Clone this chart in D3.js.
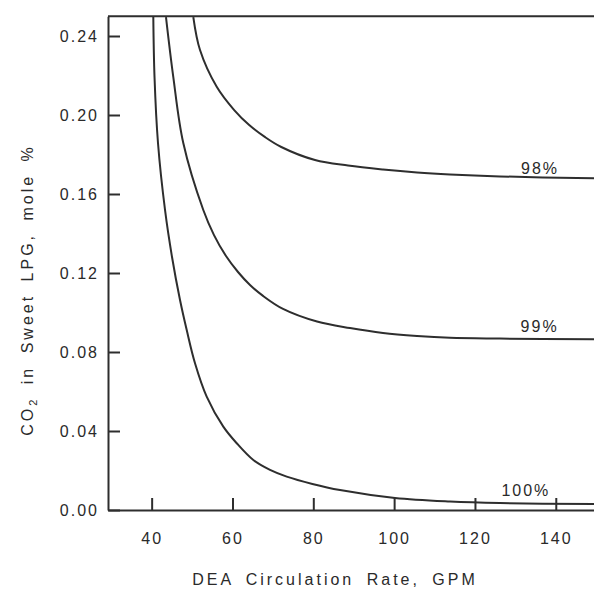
<!DOCTYPE html>
<html>
<head>
<meta charset="utf-8">
<script src="https://cdn.jsdelivr.net/npm/d3@7"></script>
<style>
  html, body { margin: 0; padding: 0; background: #fff; }
  svg { display: block; }
  text { font-family: "Liberation Sans", Arial, sans-serif; fill: #2a2a2a; }
</style>
</head>
<body>
<svg id="chart" width="594" height="589"></svg>
<script>
// ---- data ----
const xTicks = [40, 60, 80, 100, 120, 140];
const yTicks = [0.00, 0.04, 0.08, 0.12, 0.16, 0.20, 0.24];

const seriesNames = ["98%", "99%", "100%"];

const x98 = [50.31, 51.97, 56.10, 60.43, 64.14, 68.00, 72.08, 80.42, 88.59, 97.25, 105.67, 113.83, 126.2, 149.96];
const y98 = [0.2496, 0.2329, 0.2143, 0.2025, 0.1949, 0.1889, 0.1838, 0.1772, 0.1744, 0.1724, 0.1709, 0.1699, 0.1689, 0.1679];

const x99 = [43.55, 45.36, 47.83, 52.78, 55.43, 58.40, 61.37, 64.34, 67.56, 72.51, 80.92, 89.09, 97.25, 105.67, 113.83, 126.2, 149.96];
const y99 = [0.2496, 0.2192, 0.1858, 0.1519, 0.1392, 0.1286, 0.1205, 0.1139, 0.1084, 0.1018, 0.0954, 0.0921, 0.0896, 0.0881, 0.0872, 0.0868, 0.0864];

const x100 = [40.41, 40.71, 41.57, 43.31, 45.04, 47.02, 48.68, 50.73, 53.62, 57.73, 61.05, 65.16, 69.29, 73.42, 79.78, 86.61, 100.22, 113.83, 126.2, 149.96];
const y100 = [0.2496, 0.2192, 0.1858, 0.1519, 0.1281, 0.1063, 0.0911, 0.0743, 0.0574, 0.0422, 0.0338, 0.0253, 0.0203, 0.0169, 0.0132, 0.0101, 0.0061, 0.0043, 0.0035, 0.0030];

// label anchor positions (data coords) for curve labels
const labelX = [136.1, 136.0, 132.6];
const labelY = [0.1700, 0.0901, 0.0071];

const xTitle = "DEA Circulation Rate, GPM";

// ---- layout ----
const svg = d3.select("#chart");
const x = d3.scaleLinear().domain([29.2, 150.2]).range([108, 597]);
const y = d3.scaleLinear().domain([0, 0.25]).range([510, 16.25]);

const ink = "#2e2e2e";

// curves
const line = d3.line()
  .x(d => x(d[0]))
  .y(d => y(d[1]))
  .curve(d3.curveCatmullRom.alpha(0.5));

const allSeries = [
  d3.zip(x98, y98),
  d3.zip(x99, y99),
  d3.zip(x100, y100)
];

svg.append("g").selectAll("path")
  .data(allSeries)
  .join("path")
  .attr("d", line)
  .attr("fill", "none")
  .attr("stroke", ink)
  .attr("stroke-width", 2);

// axes
const xAxis = d3.axisBottom(x)
  .tickValues(xTicks)
  .tickFormat(d3.format("d"))
  .tickSizeInner(-12)
  .tickSizeOuter(0)
  .tickPadding(23);

const yAxis = d3.axisLeft(y)
  .tickValues(yTicks)
  .tickFormat(d3.format(".2f"))
  .tickSizeInner(-12)
  .tickSizeOuter(0)
  .tickPadding(9);

const gx = svg.append("g").attr("transform", `translate(0,${y(0)})`).call(xAxis);
const gy = svg.append("g").attr("transform", `translate(${x(29.2)},0)`).call(yAxis);

[gx, gy].forEach(g => {
  g.select(".domain").attr("stroke", ink).attr("stroke-width", 2);
  g.selectAll(".tick line").attr("stroke", ink).attr("stroke-width", 2);
  g.selectAll(".tick text")
    .attr("fill", "#2a2a2a")
    .style("font-family", "'Liberation Sans', Arial, sans-serif")
    .style("font-size", "16px")
    .style("letter-spacing", "2px");
});

// top frame line
svg.append("line")
  .attr("x1", x(29.2)).attr("x2", x(150.2))
  .attr("y1", y(0.25)).attr("y2", y(0.25))
  .attr("stroke", ink).attr("stroke-width", 2);

// curve labels
svg.append("g").selectAll("text")
  .data(seriesNames)
  .join("text")
  .attr("x", (d, i) => x(labelX[i]))
  .attr("y", (d, i) => y(labelY[i]))
  .attr("text-anchor", "middle")
  .style("font-size", "16px")
  .style("letter-spacing", "2px")
  .text(d => d);

// x title
svg.append("text")
  .attr("x", 335)
  .attr("y", 585)
  .attr("text-anchor", "middle")
  .style("font-size", "16px")
  .style("letter-spacing", "3px")
  .style("word-spacing", "5px")
  .text(xTitle);

// y title with subscript
const yt = svg.append("text")
  .attr("transform", "translate(33,290) rotate(-90)")
  .attr("text-anchor", "middle")
  .style("font-size", "16px")
  .style("letter-spacing", "3px")
  .style("word-spacing", "5px");
yt.append("tspan").text("CO");
yt.append("tspan").attr("dy", 4).style("font-size", "11px").text("2");
yt.append("tspan").attr("dy", -4).text(" in Sweet LPG, mole %");
</script>
</body>
</html>
